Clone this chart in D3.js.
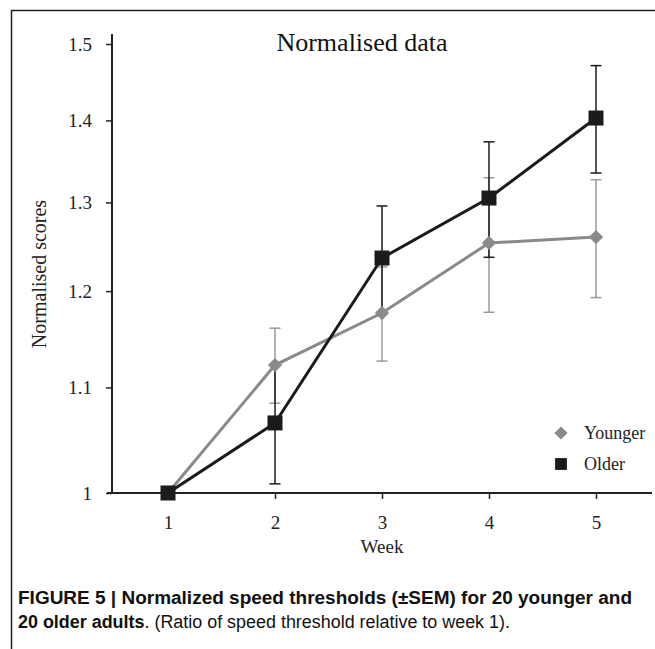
<!DOCTYPE html>
<html>
<head>
<meta charset="utf-8">
<script src="https://cdn.jsdelivr.net/npm/d3@7"></script>
<style>
  body { margin: 0; background: #fff; }
  svg { display: block; }
</style>
</head>
<body>
<svg id="chart"></svg>
<script>
const weeks = [1, 2, 3, 4, 5];
const younger = [1.000, 1.1225, 1.1765, 1.2533, 1.260];
const youngerErr = [0, 0.038, 0.050, 0.076, 0.067];
const older = [1.000, 1.0653, 1.2364, 1.3052, 1.403];
const olderErr = [0, 0.057, 0.0595, 0.068, 0.068];
const yTicks = [1, 1.1, 1.2, 1.3, 1.4, 1.5];
const yTickLabels = ["1", "1.1", "1.2", "1.3", "1.4", "1.5"];

const width = 655;
const height = 649;
const serif = "'Liberation Serif', 'Times New Roman', serif";

const svg = d3.select('#chart')
    .attr('width', width)
    .attr('height', height);

// frame around the figure
svg.append("path")
    .attr("d", `M11.5,${height} V10.5 H${width}`)
    .attr("fill", "none")
    .attr("stroke", "#222")
    .attr("stroke-width", 1.5);

const x = d3.scaleLinear()
    .domain([0.5, 5.5])
    .range([114.5, 649.5]);

const y = d3.scaleLog()
    .domain([1, 1.5])
    .range([493, 44]);

// x axis
const gx = svg.append("g")
    .attr("transform", "translate(0,493)")
    .call(d3.axisBottom(x).tickValues(weeks).tickFormat(d3.format("d")).tickSize(6).tickPadding(17))
    .call(g => g.select(".domain").remove());
gx.append("line")
    .attr("x1", 107).attr("x2", 652)
    .attr("stroke", "#222").attr("stroke-width", 2);
gx.selectAll(".tick line").attr("stroke", "#222").attr("stroke-width", 1.5);
gx.selectAll(".tick text")
    .attr("font-family", serif).attr("font-size", 19).attr("fill", "#222");

// y axis
const gy = svg.append("g")
    .attr("transform", "translate(112,0)")
    .call(d3.axisLeft(y).tickValues(yTicks).tickFormat((d, i) => yTickLabels[i]).tickSize(6).tickPadding(14))
    .call(g => g.select(".domain").remove());
gy.append("line")
    .attr("y1", 34).attr("y2", 493)
    .attr("stroke", "#222").attr("stroke-width", 2);
gy.selectAll(".tick line").attr("stroke", "#222").attr("stroke-width", 1.5);
gy.selectAll(".tick text")
    .attr("font-family", serif).attr("font-size", 19).attr("fill", "#222");

// titles
svg.append("text")
    .attr("x", 362).attr("y", 51)
    .attr("text-anchor", "middle")
    .attr("font-family", serif).attr("font-size", 26).attr("fill", "#111")
    .text("Normalised data");

svg.append("text")
    .attr("x", x(3)).attr("y", 553)
    .attr("text-anchor", "middle")
    .attr("font-family", serif).attr("font-size", 19).attr("fill", "#222")
    .text("Week");

svg.append("text")
    .attr("transform", "translate(46,274) rotate(-90)")
    .attr("text-anchor", "middle")
    .attr("font-family", serif).attr("font-size", 20).attr("fill", "#222")
    .text("Normalised scores");

const series = [
    { name: "Younger", values: younger, err: youngerErr, color: "#8a8a8a", barColor: "#9a9a9a", shape: d3.symbolDiamond2, size: 130 },
    { name: "Older", values: older, err: olderErr, color: "#1b1a1c", barColor: "#1b1a1c", shape: d3.symbolSquare, size: 225 }
];

// error bars
series.forEach(s => {
    const g = svg.append("g").attr("stroke", s.barColor).attr("stroke-width", 1.5);
    weeks.forEach((w, i) => {
        if (!s.err[i]) return;
        const top = y(s.values[i] + s.err[i]);
        const bot = y(s.values[i] - s.err[i]);
        g.append("line").attr("x1", x(w)).attr("x2", x(w)).attr("y1", top).attr("y2", bot);
        g.append("line").attr("x1", x(w) - 5.5).attr("x2", x(w) + 5.5).attr("y1", top).attr("y2", top);
        g.append("line").attr("x1", x(w) - 5.5).attr("x2", x(w) + 5.5).attr("y1", bot).attr("y2", bot);
    });
});

const line = d3.line()
    .x((d, i) => x(weeks[i]))
    .y(d => y(d));

series.forEach(s => {
    svg.append("path")
        .attr("fill", "none")
        .attr("stroke", s.color)
        .attr("stroke-width", 3)
        .attr("d", line(s.values));
});

series.forEach(s => {
    svg.append("g").selectAll("path")
        .data(s.values)
        .join("path")
        .attr("transform", (d, i) => `translate(${x(weeks[i])},${y(d)})`)
        .attr("d", d3.symbol().type(s.shape).size(s.size))
        .attr("fill", s.color);
});

// legend
const legend = svg.append("g").attr("transform", "translate(561,433)");
series.forEach((s, i) => {
    const row = legend.append("g").attr("transform", `translate(0,${i * 31})`);
    row.append("path")
        .attr("d", d3.symbol().type(s.shape).size(s.name === "Older" ? 140 : 110))
        .attr("fill", s.color);
    row.append("text")
        .attr("x", 23).attr("y", 6)
        .attr("font-family", serif).attr("font-size", 18).attr("fill", "#222")
        .text(s.name);
});

// caption
const sans = "'Liberation Sans Narrow', 'Arial Narrow', 'Liberation Sans', Arial, sans-serif";
svg.append("text")
    .attr("x", 18).attr("y", 604)
    .attr("font-family", sans).attr("font-size", 18).attr("fill", "#111")
    .attr("font-weight", "bold")
    .attr("textLength", 614).attr("lengthAdjust", "spacingAndGlyphs")
    .text("FIGURE 5 | Normalized speed thresholds (±SEM) for 20 younger and");

const cap2 = svg.append("text")
    .attr("x", 18).attr("y", 628)
    .attr("font-family", sans).attr("font-size", 18).attr("fill", "#111")
    .attr("textLength", 492).attr("lengthAdjust", "spacingAndGlyphs");
cap2.append("tspan").attr("font-weight", "bold").text("20 older adults");
cap2.append("tspan").text(". (Ratio of speed threshold relative to week 1).");
</script>
</body>
</html>
